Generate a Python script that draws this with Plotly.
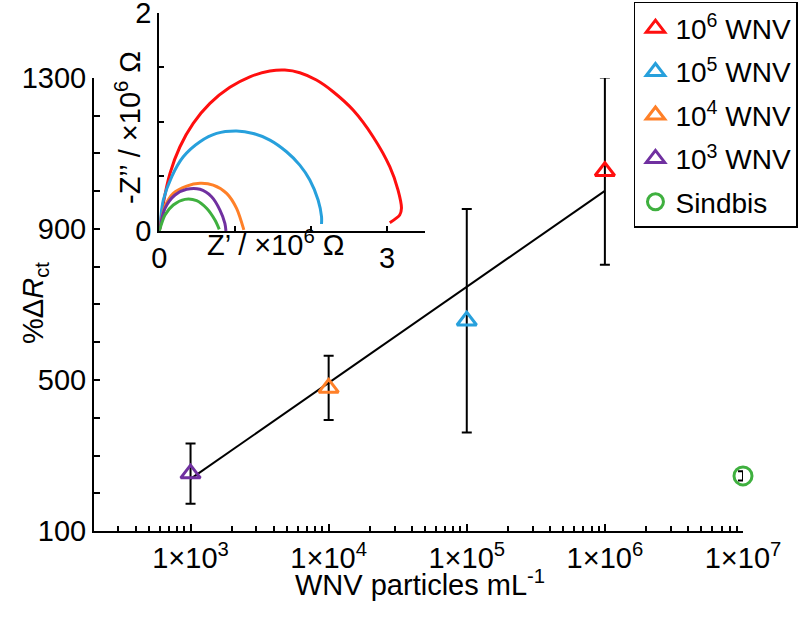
import plotly.graph_objects as go

# ---- main chart data ----
series_names = ["10<sup>6</sup> WNV", "10<sup>5</sup> WNV", "10<sup>4</sup> WNV", "10<sup>3</sup> WNV", "Sindbis"]
series_x = [1e6, 1e5, 1e4, 1e3, 1e7]
series_y = [1053, 657, 479, 252, 246]
series_err = [248, 296, 85, 80, 12]
series_colors = ["#FF0F0F", "#27A0DC", "#FF8028", "#7030A0", "#3FB03F"]
series_symbols = ["triangle-up-open", "triangle-up-open", "triangle-up-open", "triangle-up-open", "circle-open"]

fit_x = [1e3, 1e6]
fit_y = [238, 1001]

x_tick_vals = [1e3, 1e4, 1e5, 1e6, 1e7]
x_tick_text = ["1×10<sup>3</sup>", "1×10<sup>4</sup>", "1×10<sup>5</sup>", "1×10<sup>6</sup>", "1×10<sup>7</sup>"]
y_tick_vals = [100, 500, 900, 1300]

# ---- inset (Nyquist) data, Z' and -Z'' in 10^6 ohm ----
red_zr = [0.0, 0.053, 0.141, 0.272, 0.447, 0.667, 0.93, 1.193, 1.457, 1.654, 1.851, 2.07, 2.29, 2.553, 2.816, 3.036, 3.145, 3.19, 3.167, 3.036]
red_zi = [0.0, 0.253, 0.528, 0.772, 0.986, 1.169, 1.316, 1.413, 1.465, 1.474, 1.45, 1.383, 1.276, 1.108, 0.864, 0.589, 0.375, 0.208, 0.147, 0.076]
blue_zr = [0.0, 0.053, 0.163, 0.316, 0.536, 0.755, 1.018, 1.237, 1.457, 1.676, 1.851, 1.983, 2.092, 2.137, 2.137]
blue_zi = [0.0, 0.284, 0.497, 0.68, 0.818, 0.894, 0.916, 0.894, 0.833, 0.726, 0.604, 0.467, 0.284, 0.131, 0.064]
orange_zr = [0.0, 0.075, 0.184, 0.36, 0.536, 0.71, 0.887, 1.018, 1.114]
orange_zi = [0.0, 0.223, 0.345, 0.412, 0.437, 0.421, 0.345, 0.208, 0.01]
purple_zr = [0.0, 0.075, 0.207, 0.36, 0.536, 0.689, 0.799, 0.864, 0.878]
purple_zi = [0.0, 0.208, 0.33, 0.382, 0.382, 0.314, 0.192, 0.07, 0.0]
green_zr = [0.0, 0.075, 0.184, 0.338, 0.492, 0.623, 0.733, 0.79]
green_zi = [0.0, 0.147, 0.238, 0.29, 0.278, 0.208, 0.1, 0.015]

FONT = "Liberation Sans, Arial, sans-serif"
FS = 29

fig = go.Figure()

# fit line
fig.add_trace(go.Scatter(x=fit_x, y=fit_y, mode="lines", cliponaxis=False,
                         line=dict(color="black", width=2), showlegend=False, hoverinfo="skip"))

# data points
for i, (name, x, y, e, c, s) in enumerate(zip(series_names, series_x, series_y, series_err, series_colors, series_symbols)):
    fig.add_trace(go.Scatter(
        x=[x], y=[y], mode="markers", name=name, cliponaxis=False, legendgroup=f"g{i}",
        marker=dict(symbol=s, size=17 if "triangle" in s else 18, color=c, line=dict(width=3, color=c)),
        error_y=dict(type="data", array=[e], visible=True, color="black", thickness=2, width=5),
    ))

# inset curves
for zr, zi, c in [(red_zr, red_zi, series_colors[0]), (blue_zr, blue_zi, series_colors[1]),
                  (orange_zr, orange_zi, series_colors[2]), (purple_zr, purple_zi, series_colors[3]),
                  (green_zr, green_zi, series_colors[4])]:
    fig.add_trace(go.Scatter(x=zr, y=zi, mode="lines", xaxis="x2", yaxis="y2", cliponaxis=False,
                             line=dict(color=c, width=3, shape="spline", smoothing=0.8),
                             showlegend=False, hoverinfo="skip"))

minor_x = [k * 10 ** n for n in range(2, 7) for k in range(2, 10) if k * 10 ** n >= 200]
minor_y = [v for v in range(200, 1300, 100) if v not in y_tick_vals]

fig.update_layout(
    width=800, height=624,
    margin=dict(l=94, r=57, t=10, b=93, autoexpand=False),
    paper_bgcolor="white", plot_bgcolor="white",
    font=dict(family=FONT, size=FS, color="black"),
    showlegend=True,
    legend=dict(x=0.832, y=1.0154, xanchor="left", yanchor="top",
                bgcolor="white", bordercolor="black", borderwidth=1.5,
                font=dict(family=FONT, size=28), traceorder="grouped", tracegroupgap=4,
                itemsizing="trace"),
    xaxis=dict(type="log", range=[2.30103, 7], domain=[0, 1], automargin=False,
               showline=True, linecolor="black", linewidth=2, mirror=False,
               showgrid=False, zeroline=False, ticklabeloverflow="allow",
               tickmode="array", tickvals=x_tick_vals, ticktext=x_tick_text,
               ticks="inside", ticklen=7, tickwidth=2, tickcolor="black",
               minor=dict(tickvals=minor_x, ticks="inside", ticklen=5, tickwidth=1.5, tickcolor="black", showgrid=False),
               tickfont=dict(size=FS)),
    yaxis=dict(range=[100, 1300], domain=[0, 0.8695], automargin=False,
               showline=True, linecolor="black", linewidth=2,
               showgrid=False, zeroline=False, ticklabeloverflow="allow",
               tickmode="array", tickvals=y_tick_vals,
               ticks="inside", ticklen=6, tickwidth=2, tickcolor="black",
               minor=dict(tickvals=minor_y, ticks="inside", ticklen=6, tickwidth=2, tickcolor="black", showgrid=False),
               tickfont=dict(size=FS)),
    xaxis2=dict(domain=[0.1006, 0.51], anchor="y2", range=[0, 3.5], automargin=False,
                showline=True, linecolor="black", linewidth=2, showgrid=False, zeroline=False,
                ticklabeloverflow="allow",
                tickmode="array", tickvals=[0, 1, 2, 3], ticktext=["0", "", "", "3"],
                ticks="inside", ticklen=5, tickwidth=2, tickcolor="black", tickfont=dict(size=FS)),
    yaxis2=dict(domain=[0.5758, 0.9948], anchor="x2", range=[0, 2], automargin=False,
                showline=True, linecolor="black", linewidth=2, showgrid=False, zeroline=False,
                ticklabeloverflow="allow",
                tickmode="array", tickvals=[0, 0.5, 1, 1.5, 2], ticktext=["0", "", "", "", "2"],
                ticks="inside", ticklen=5, tickwidth=2, tickcolor="black", tickfont=dict(size=FS)),
    annotations=[
        dict(text="WNV particles mL<sup>-1</sup>", x=0.502, y=-0.1, xref="paper", yref="paper",
             xanchor="center", yanchor="middle", showarrow=False, font=dict(size=FS)),
        dict(text="%Δ<i>R</i><sub>ct</sub>", x=-0.091, y=0.4376, xref="paper", yref="paper",
             xanchor="center", yanchor="middle", textangle=-90, showarrow=False, font=dict(size=FS)),
        dict(text="Z’ / ×10<sup>6</sup> Ω", x=0.279, y=0.553, xref="paper", yref="paper",
             xanchor="center", yanchor="middle", showarrow=False, font=dict(size=FS)),
        dict(text="-Z’’ / ×10<sup>6</sup> Ω", x=0.0524, y=0.7735, xref="paper", yref="paper",
             xanchor="center", yanchor="middle", textangle=-90, showarrow=False, font=dict(size=FS)),
    ],
)

fig.write_html("out.html", config={"displayModeBar": False},
               post_script="document.body.style.margin='0';document.body.style.padding='0';")
